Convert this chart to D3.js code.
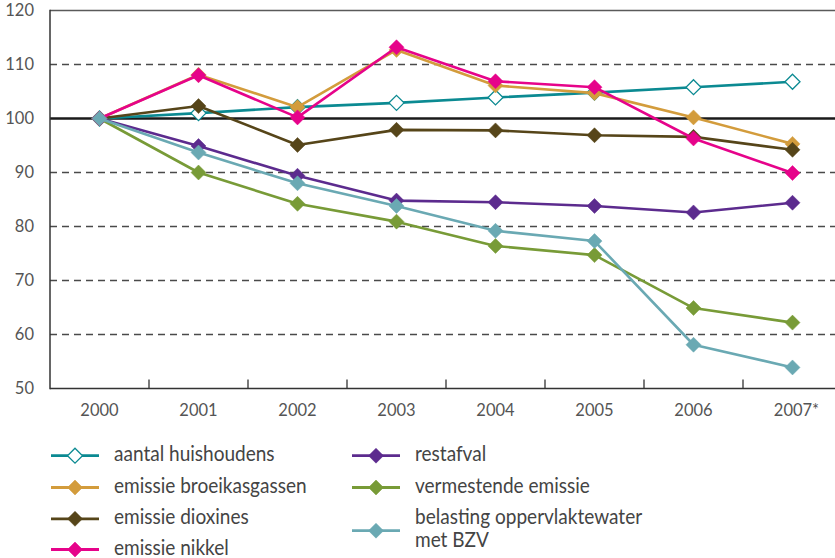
<!DOCTYPE html>
<html><head><meta charset="utf-8">
<script src="https://cdn.jsdelivr.net/npm/d3@7"></script>
<style>body{margin:0;background:#fff}svg{display:block}text{font-family:Lato,"Open Sans",sans-serif}</style>
</head><body><svg id="c" width="835" height="558"></svg>
<script>
const years = ["2000","2001","2002","2003","2004","2005","2006","2007*"];
const yTicks = [50,60,70,80,90,100,110,120];
const huishoudens = [100,101.0,102.1,102.9,103.9,104.8,105.8,106.8];
const broeikasgassen = [100,108.1,102.1,112.7,106.1,104.7,100.2,95.3];
const dioxines = [100,102.3,95.1,97.9,97.8,96.9,96.6,94.2];
const nikkel = [100,108.0,100.2,113.2,106.9,105.8,96.3,89.9];
const restafval = [100,94.9,89.4,84.8,84.5,83.8,82.6,84.4];
const vermestende = [100,90.0,84.2,80.9,76.4,74.7,64.9,62.2];
const belasting = [100,93.7,88.0,83.8,79.2,77.3,58.1,53.9];
const seriesNames = ["aantal huishoudens","emissie broeikasgassen","emissie dioxines","emissie nikkel","restafval","vermestende emissie","belasting oppervlaktewater met BZV"];

const series = [
  {name:seriesNames[0], values:huishoudens, color:"#0b8a92", open:true},
  {name:seriesNames[1], values:broeikasgassen, color:"#d39c3c"},
  {name:seriesNames[2], values:dioxines, color:"#564519"},
  {name:seriesNames[4], values:restafval, color:"#5c2b8e"},
  {name:seriesNames[5], values:vermestende, color:"#789b37"},
  {name:seriesNames[3], values:nikkel, color:"#e6038a"},
  {name:seriesNames[6], values:belasting, color:"#6aa9b3"}
];

const svg = d3.select("#c");
const x = d3.scaleBand().domain(years).range([50, 50+8*99]).padding(0);
const y = d3.scaleLinear().domain([50,120]).range([388.5,10.5]);
const cx = d => x(d)+x.bandwidth()/2;

// gridlines
svg.append("g").selectAll("line").data(yTicks.filter(t=>t!==50 && t!==100 && t!==120)).join("line")
  .attr("x1",50).attr("x2",835).attr("y1",d=>y(d)).attr("y2",d=>y(d))
  .attr("stroke","#4a4a4a").attr("stroke-width",1.6).attr("stroke-dasharray","7,5");
// top border
svg.append("line").attr("x1",50).attr("x2",835).attr("y1",y(120)).attr("y2",y(120)).attr("stroke","#5a5a5a").attr("stroke-width",1.5);
// left axis
svg.append("line").attr("x1",50).attr("x2",50).attr("y1",y(120)-0.7).attr("y2",y(50)+0.7).attr("stroke","#333").attr("stroke-width",1.5);
// bottom axis
svg.append("line").attr("x1",50).attr("x2",835).attr("y1",y(50)).attr("y2",y(50)).attr("stroke","#333").attr("stroke-width",1.5);
// ticks
svg.append("g").selectAll("line").data(years.slice(1)).join("line")
  .attr("x1",d=>x(d)).attr("x2",d=>x(d)).attr("y1",y(50)).attr("y2",y(50)-9)
  .attr("stroke","#333").attr("stroke-width",1.3);
// y labels
svg.append("g").selectAll("text").data(yTicks).join("text")
  .attr("x",34).attr("y",d=>y(d)).attr("dy","0.35em").attr("text-anchor","end")
  .attr("font-size",16.5).attr("fill","#555").text(d=>d);
// x labels
svg.append("g").selectAll("text").data(years).join("text")
  .attr("x",d=>cx(d)+(d.endsWith("*")?4:0)).attr("y",415.5).attr("text-anchor","middle")
  .attr("font-size",16.5).attr("fill","#555").text(d=>d);

const line = d3.line().x((v,i)=>cx(years[i])).y(v=>y(v));
const diamond = (px,py,r) => `M${px},${py-r}L${px+r},${py}L${px},${py+r}L${px-r},${py}Z`;

series.forEach(s=>{
  svg.append("path").attr("d",line(s.values)).attr("fill","none").attr("stroke",s.color).attr("stroke-width",2.6).attr("stroke-linejoin","round");
  s.values.forEach((v,i)=>{
    svg.append("path").attr("d",diamond(cx(years[i]),y(v),7.5))
      .attr("fill",s.open?"#fff":s.color).attr("stroke",s.color).attr("stroke-width",s.open?1.3:0.5);
  });
});
// base 100 line
svg.append("line").attr("x1",50).attr("x2",835).attr("y1",y(100)).attr("y2",y(100)).attr("stroke","#1a1a1a").attr("stroke-width",2.6).lower();

// legend
const legendItems = [
  {s:series[0], col:0, row:0}, {s:series[1], col:0, row:1}, {s:series[2], col:0, row:2}, {s:series[5], col:0, row:3},
  {s:series[3], col:1, row:0}, {s:series[4], col:1, row:1}, {s:series[6], col:1, row:2}
];
const rowY = [455.7,487.5,518.8,549.5];
const colX = [51,352];
legendItems.forEach(it=>{
  const lx = colX[it.col];
  let ly = rowY[it.row];
  const multi = it.s.name.includes("met BZV");
  const my = multi ? 530.7 : ly;
  const g = svg.append("g");
  g.append("line").attr("x1",lx).attr("x2",lx+48).attr("y1",my).attr("y2",my).attr("stroke",it.s.color).attr("stroke-width",2.8);
  g.append("path").attr("d",diamond(lx+24,my,7.5)).attr("fill",it.s.open?"#fff":it.s.color).attr("stroke",it.s.color).attr("stroke-width",it.s.open?1.3:0.5);
  const t = g.append("text").attr("transform",`translate(${lx+63},${ly+5.5}) scale(0.885,1)`)
    .attr("font-size",21.5).attr("fill","#444");
  if(multi){
    t.append("tspan").attr("x",0).attr("y",0).text("belasting oppervlaktewater");
    t.append("tspan").attr("x",0).attr("y",22.7).text("met BZV");
  } else {
    t.text(it.s.name);
  }
});
</script></body></html>
